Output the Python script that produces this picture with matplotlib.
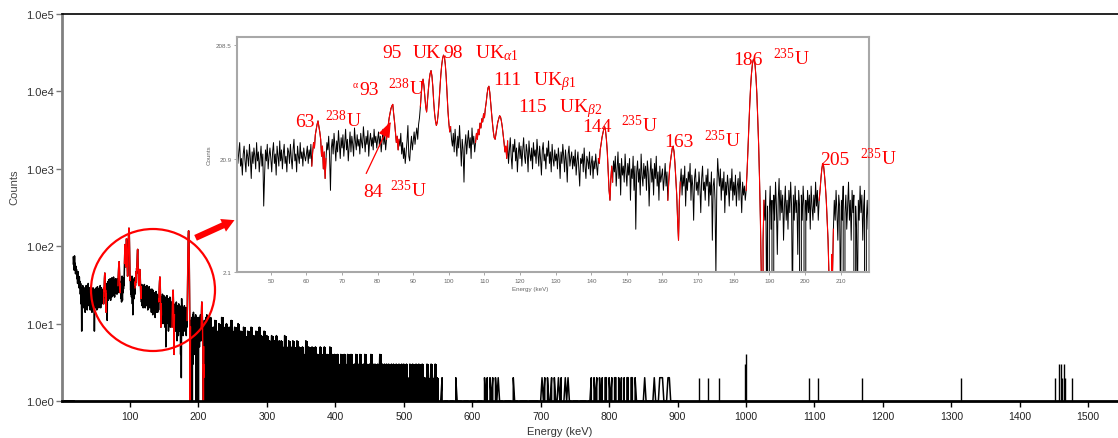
import numpy as np
import matplotlib.pyplot as plt
from matplotlib.patches import Ellipse, FancyArrowPatch
from matplotlib.ticker import FixedLocator, FixedFormatter, NullLocator

W, H = 1118, 439

# ---- spectrum data (counts per channel) ----
# flat part at 1 count before the spectrum starts
lead_e = [1.0, 16.5]
lead_c = [1, 1]

# 17 - 39.5 keV, 0.5 keV channels
start_a, step_a = 17.0, 0.5
counts_a = [
    72, 58, 66, 49, 75, 52, 60, 44, 55, 47,
    50, 38, 45, 33, 47, 36, 41, 29, 40, 31,
    35, 24, 33, 18, 29, 8, 27, 20, 31, 17,
    25, 16, 29, 19, 24, 14, 28, 21, 31, 17,
    23, 15, 27, 20, 33, 18,
]

# 40 - 219.75 keV, 0.25 keV channels (one row = 5 keV)
start_b, step_b = 40.0, 0.25
counts_b = [
    22, 17, 26, 19, 24, 29, 18, 21, 15, 23, 27, 20, 16, 25, 22, 18, 28, 21, 14, 24,
    19, 26, 22, 17, 29, 20, 24, 16, 21, 27, 18, 23, 8, 15, 25, 20, 28, 17, 22, 26,
    21, 16, 24, 29, 19, 23, 15, 27, 22, 18, 30, 20, 25, 17, 23, 28, 19, 22, 16, 26,
    24, 19, 28, 21, 17, 25, 31, 20, 23, 16, 27, 22, 19, 29, 21, 24, 18, 26, 22, 20,
    23, 27, 19, 25, 21, 28, 18, 24, 29, 26, 34, 38, 42, 45, 40, 36, 31, 22, 27, 17,
    24, 14, 21, 29, 25, 33, 22, 11, 26, 31, 23, 35, 27, 20, 30, 24, 37, 28, 21, 32,
    26, 34, 22, 29, 38, 25, 31, 20, 27, 36, 24, 33, 28, 22, 39, 30, 25, 34, 27, 31,
    23, 35, 29, 26, 40, 31, 24, 33, 28, 37, 22, 30, 35, 27, 32, 25, 38, 29, 33, 26,
    31, 36, 27, 33, 24, 30, 38, 28, 34, 25, 31, 37, 42, 48, 53, 58, 61, 63, 52, 44,
    36, 29, 33, 25, 31, 27, 35, 23, 29, 21, 26, 19, 24, 30, 41, 22, 20, 27, 33, 25,
    30, 36, 28, 34, 39, 31, 42, 48, 60, 78, 95, 105, 92, 74, 60, 54, 68, 85, 104, 118,
    125, 112, 90, 66, 52, 45, 41, 44, 52, 66, 88, 115, 140, 160, 171, 165, 142, 110, 78, 55,
    43, 36, 40, 31, 27, 35, 24, 38, 29, 22, 33, 26, 41, 28, 18, 31, 25, 13, 27, 34,
    23, 30, 37, 26, 32, 21, 39, 28, 33, 24, 29, 35, 31, 38, 34, 43, 39, 47, 44, 52,
    48, 58, 66, 78, 88, 91, 80, 65, 52, 43, 36, 32, 31, 35, 40, 44, 47, 50, 49, 45,
    40, 34, 29, 24, 27, 21, 30, 19, 25, 32, 22, 17, 28, 24, 31, 20, 26, 16, 23, 29,
    21, 27, 18, 25, 32, 22, 19, 28, 24, 16, 30, 23, 20, 26, 17, 29, 22, 25, 19, 31,
    24, 18, 27, 21, 15, 25, 29, 20, 23, 17, 26, 22, 30, 19, 24, 16, 28, 21, 18, 25,
    20, 23, 17, 26, 21, 14, 24, 19, 28, 22, 16, 25, 20, 13, 23, 27, 18, 21, 24, 17,
    22, 18, 25, 15, 20, 24, 17, 12, 21, 19, 23, 16, 26, 18, 14, 22, 20, 17, 24, 15,
    19, 22, 14, 20, 17, 23, 18, 15, 21, 19, 25, 28, 32, 35, 38, 40, 37, 31, 24, 16,
    11, 9, 14, 18, 13, 20, 16, 22, 12, 17, 24, 14, 19, 10, 21, 15, 18, 13, 23, 16,
    12, 19, 15, 21, 9, 17, 14, 22, 11, 18, 5, 16, 20, 13, 17, 10, 23, 15, 12, 19,
    14, 18, 11, 20, 16, 8, 15, 21, 13, 17, 10, 19, 14, 22, 12, 16, 9, 18, 13, 15,
    17, 11, 14, 19, 12, 16, 9, 13, 17, 20, 23, 26, 27, 24, 19, 14, 10, 6, 4, 9,
    13, 17, 10, 15, 12, 18, 8, 14, 11, 16, 13, 19, 9, 15, 12, 6, 14, 17, 11, 13,
    10, 16, 12, 7, 14, 18, 11, 13, 9, 15, 12, 17, 8, 13, 10, 16, 4, 12, 14, 9,
    2, 11, 21, 15, 12, 17, 9, 14, 11, 16, 7, 13, 10, 15, 12, 8, 14, 11, 17, 9,
    13, 10, 15, 8, 12, 14, 9, 16, 11, 7, 13, 10, 12, 9, 11, 16, 25, 40, 62, 90,
    118, 142, 156, 158, 140, 110, 78, 48, 28, 14, 6, 2, 0, 4, 9, 6, 11, 1, 8, 0,
    7, 12, 5, 9, 0, 10, 6, 13, 8, 3, 9, 14, 6, 11, 7, 10, 4, 8, 12, 6,
    9, 5, 11, 7, 13, 8, 1, 10, 6, 12, 7, 9, 3, 11, 8, 0, 10, 6, 12, 8,
    0, 9, 6, 11, 7, 10, 5, 12, 8, 6, 10, 7, 13, 8, 11, 6, 9, 11, 14, 17,
    19, 18, 15, 12, 9, 6, 4, 2, 1, 0, 3, 2, 5, 9, 6, 11, 7, 4, 10, 8,
    1, 9, 6, 12, 0, 7, 10, 5, 8, 13, 6, 9, 4, 11, 7, 10, 0, 8, 5, 1,
    9, 6, 12, 7, 10, 4, 8, 11, 0, 6, 9, 5, 12, 7, 3, 10, 6, 9, 4, 8,
]

# 220 - 549 keV, 1 keV channels (one row = 20 keV)
start_c, step_c = 220.0, 1.0
counts_c = [
    7, 0, 9, 4, 11, 2, 6, 8, 0, 5, 10, 3, 7, 0, 12, 4, 6, 9, 1, 8,
    5, 10, 0, 7, 3, 9, 6, 0, 11, 4, 8, 2, 6, 9, 0, 5, 7, 3, 10, 4,
    0, 6, 8, 3, 5, 0, 9, 4, 7, 2, 6, 0, 8, 5, 3, 7, 0, 9, 4, 6,
    2, 7, 5, 0, 8, 3, 6, 4, 0, 9, 5, 2, 7, 0, 6, 4, 8, 3, 0, 5,
    7, 2, 5, 0, 6, 4, 3, 7, 0, 5, 2, 6, 4, 0, 7, 3, 5, 1, 6, 0,
    4, 6, 2, 5, 0, 3, 7, 4, 1, 5, 3, 0, 6, 2, 4, 5, 0, 3, 6, 2,
    5, 0, 4, 2, 6, 3, 0, 5, 1, 4, 3, 0, 5, 2, 4, 0, 3, 6, 1, 4,
    2, 5, 0, 3, 4, 1, 5, 2, 0, 4, 3, 5, 0, 2, 4, 1, 3, 0, 5, 2,
    4, 0, 3, 2, 5, 1, 3, 0, 4, 2, 3, 0, 5, 1, 2, 4, 0, 3, 2, 4,
    1, 3, 0, 4, 2, 3, 1, 0, 4, 2, 3, 0, 2, 4, 1, 3, 0, 2, 4, 1,
    3, 0, 2, 4, 1, 3, 0, 2, 3, 1, 4, 0, 2, 3, 0, 2, 4, 1, 3, 0,
    2, 3, 0, 4, 1, 2, 3, 0, 2, 1, 3, 0, 4, 2, 0, 3, 1, 2, 3, 0,
    2, 1, 3, 0, 2, 4, 0, 2, 1, 3, 0, 2, 3, 0, 1, 3, 2, 0, 3, 1,
    0, 2, 3, 1, 0, 3, 2, 0, 2, 3, 1, 0, 2, 3, 0, 2, 1, 3, 0, 2,
    3, 0, 1, 2, 3, 0, 2, 1, 0, 3, 2, 0, 1, 3, 0, 2, 2, 0, 3, 1,
    0, 2, 3, 0, 1, 2, 0, 3, 1, 0, 2, 2, 0, 1, 3, 0, 2, 1, 0, 2,
    3, 0, 2, 1, 0, 2, 3, 0, 1, 2,
]

# 550 - 900 keV, 2 keV channels (one row = 40 keV)
start_d, step_d = 550.0, 2.0
counts_d = [
    1, 0, 1, 2, 0, 1, 1, 1, 0, 1, 1, 1, 0, 2, 1, 1,
    1, 1, 0, 1, 1, 1, 1, 0, 1, 1, 1, 1, 0, 1, 1, 1, 1, 0, 2, 1,
    2, 0, 2, 1, 2, 0, 2, 1, 2, 1, 1, 1, 0, 1, 1, 1, 1, 1, 0, 2,
    1, 1, 1, 0, 1, 1, 1, 1, 1, 1, 0, 1, 1, 1, 1, 1, 1, 1, 0, 1,
    2, 1, 2, 0, 2, 1, 1, 2, 0, 2, 1, 1, 2, 1, 2, 0, 1, 2, 1, 2,
    1, 1, 0, 1, 1, 1, 1, 0, 1, 1, 1, 1, 1, 0, 1, 1, 2, 0, 2, 1,
    2, 0, 2, 1, 2, 0, 2, 2, 0, 2, 1, 2, 0, 2, 2, 0, 2, 1, 2, 0,
    2, 0, 2, 2, 0, 2, 2, 0, 2, 1, 1, 1, 1, 1, 1, 2, 1, 1, 1, 1,
    1, 1, 2, 1, 1, 1, 2, 2, 2, 1, 1, 1, 2, 2, 1, 1, 1, 1, 1, 1,
]

# isolated counts above 900 keV
line_e = [931, 944, 960, 998, 1000, 1092, 1105, 1169, 1314,
          1452, 1458, 1460, 1462, 1464, 1466, 1477]
line_c = [2, 2, 2, 3, 4, 2, 2, 2, 2, 2, 3, 3, 2, 3, 2, 2]

# regions of interest drawn in red
roi_lo = [61.5, 82.5, 92.0, 107.5, 142.0, 161.5, 183.5, 204.0]
roi_hi = [65.5, 86.0, 100.5, 116.5, 146.0, 165.0, 188.5, 208.0]

# peak labels in the zoom
peak_energy = ["63", "84", "93", "95", "98", "111", "115", "144", "163", "186", "205"]
peak_name = [r"$^{238}$U", r"$^{235}$U", r"$^{238}$U", "UK", r"UK$_{\alpha1}$",
             r"UK$_{\beta1}$", r"UK$_{\beta2}$", r"$^{235}$U", r"$^{235}$U",
             r"$^{235}$U", r"$^{235}$U"]

main_yticks = [1, 10, 100, 1000, 10000, 100000]
main_ylabels = ["1.0e0", "1.0e1", "1.0e2", "1.0e3", "1.0e4", "1.0e5"]
main_xticks = [100, 200, 300, 400, 500, 600, 700, 800, 900, 1000,
               1100, 1200, 1300, 1400, 1500]
inset_yticks = [2.1, 20.9, 208.5]
inset_ylabels = ["2.1", "20.9", "208.5"]
inset_xticks = [50, 60, 70, 80, 90, 100, 110, 120, 130, 140, 150,
                160, 170, 180, 190, 200, 210]

plt.rcParams['font.family'] = ['Liberation Sans', 'DejaVu Sans']
plt.rcParams['mathtext.fontset'] = 'custom'
plt.rcParams['mathtext.rm'] = 'Liberation Serif'
plt.rcParams['mathtext.it'] = 'Liberation Serif:italic'
plt.rcParams['mathtext.bf'] = 'Liberation Serif:bold'


def px(x, y):
    # pixel position (from top left) -> figure fraction
    return x / W, 1 - y / H


def channels(start, step, counts):
    c = np.array(counts, dtype=float)
    return start + step * np.arange(len(c)), c


e_a, c_a = channels(start_a, step_a, counts_a)
e_b, c_b = channels(start_b, step_b, counts_b)
e_c, c_c = channels(start_c, step_c, counts_c)
e_d, c_d = channels(start_d, step_d, counts_d)
e_all = np.concatenate([e_a, e_b, e_c, e_d])
c_all = np.concatenate([c_a, c_b, c_c, c_d])

fig = plt.figure(figsize=(W / 100, H / 100), dpi=100)

# ---- main spectrum ----
ax = fig.add_axes([62 / W, 1 - 402 / H, (W - 62) / W, (402 - 15) / H])
ax.set_yscale('log', nonpositive='clip')
ax.plot(lead_e, lead_c, color='black', lw=2)
ax.plot(e_all, c_all, color='black', lw=1.1)
ax.vlines(e_c, 0.5, c_c, color='black', lw=1.8, antialiased=False)
ax.vlines(line_e, 0.5, line_c, color='black', lw=1.0)
for lo, hi in zip(roi_lo, roi_hi):
    m = (e_b >= lo) & (e_b <= hi)
    ax.plot(e_b[m], c_b[m], color='red', lw=1.0)
ax.set_xlim(0.7, 1543.5)
ax.set_ylim(1, 1e5)
ax.yaxis.set_major_locator(FixedLocator(main_yticks))
ax.yaxis.set_major_formatter(FixedFormatter(main_ylabels))
ax.yaxis.set_minor_locator(NullLocator())
ax.xaxis.set_major_locator(FixedLocator(main_xticks))
ax.xaxis.set_minor_locator(NullLocator())
ax.spines['right'].set_visible(False)
ax.spines['top'].set_linewidth(1.2)
ax.spines['left'].set_color('#808080')
ax.spines['left'].set_linewidth(2)
ax.spines['bottom'].set_linewidth(2)
ax.tick_params(axis='y', labelsize=8, labelcolor='#333333', color='#777777',
               length=4, width=1, pad=2)
ax.tick_params(axis='x', labelsize=7.5, labelcolor='#222222', length=4, width=1, pad=3)
fig.text(*px(14, 187), "Counts", rotation=90, ha='center', va='center',
         fontsize=8, color='#444444')
fig.text(*px(560, 432), "Energy (keV)", ha='center', va='center',
         fontsize=8, color='#333333')

# ---- zoomed inset ----
ax_in = fig.add_axes([237 / W, 1 - 273 / H, (869 - 237) / W, (273 - 38) / H])
ax_in.set_yscale('log', nonpositive='clip')
ax_in.plot(e_b, c_b, color='black', lw=0.7)
for lo, hi in zip(roi_lo, roi_hi):
    m = (e_b >= lo) & (e_b <= hi)
    ax_in.plot(e_b[m], c_b[m], color='red', lw=0.8)
ax_in.set_xlim(40.5, 218)
ax_in.set_ylim(2.1, 247)
ax_in.yaxis.set_major_locator(FixedLocator(inset_yticks))
ax_in.yaxis.set_major_formatter(FixedFormatter(inset_ylabels))
ax_in.yaxis.set_minor_locator(NullLocator())
ax_in.xaxis.set_major_locator(FixedLocator(inset_xticks))
ax_in.xaxis.set_minor_locator(NullLocator())
for sp in ax_in.spines.values():
    sp.set_color('#a8a8a8')
    sp.set_linewidth(1.5)
ax_in.tick_params(labelsize=4.5, labelcolor='#666666', color='#999999',
                  length=2, width=0.6, pad=2)
fig.text(*px(209, 155), "Counts", rotation=90, ha='center', va='center',
         fontsize=4.5, color='#666666')
fig.text(*px(530, 289), "Energy (keV)", ha='center', va='center',
         fontsize=4.5, color='#666666')

# ---- annotations ----
num_pos = [(295, 127), (363, 197), (359, 95), (382, 58), (443, 58), (493, 85),
           (518, 112), (582, 132), (664, 147), (733, 65), (820, 165)]
name_pos = [(325, 127), (390, 197), (388, 95), (413, 58), (475, 58), (533, 85),
            (559, 112), (621, 132), (704, 147), (773, 65), (860, 165)]
for s, (x, y) in zip(peak_energy, num_pos):
    fig.text(*px(x, y), s, color='red', fontsize=14, family='Liberation Serif',
             ha='left', va='baseline')
for s, (x, y) in zip(peak_name, name_pos):
    fig.text(*px(x, y), s, color='red', fontsize=14, family='Liberation Serif',
             ha='left', va='baseline')
fig.text(*px(353, 88), "α", color='red', fontsize=7, family='Liberation Serif',
         ha='left', va='baseline')

arr = FancyArrowPatch(px(365, 177), px(392, 120), transform=fig.transFigure,
                      arrowstyle='-|>,head_length=0.8,head_width=0.3',
                      mutation_scale=12, lw=0.9, color='red')
fig.add_artist(arr)

big = FancyArrowPatch(px(193, 240), px(237, 220), transform=fig.transFigure,
                      arrowstyle='simple,head_length=0.9,head_width=1.0,tail_width=0.45',
                      mutation_scale=10, lw=0, color='red')
fig.add_artist(big)

circ = Ellipse(px(153, 291), 124 / W, 122 / H, transform=fig.transFigure,
               fill=False, ec='red', lw=1.6)
fig.add_artist(circ)

fig.savefig('out.png', dpi=100)
